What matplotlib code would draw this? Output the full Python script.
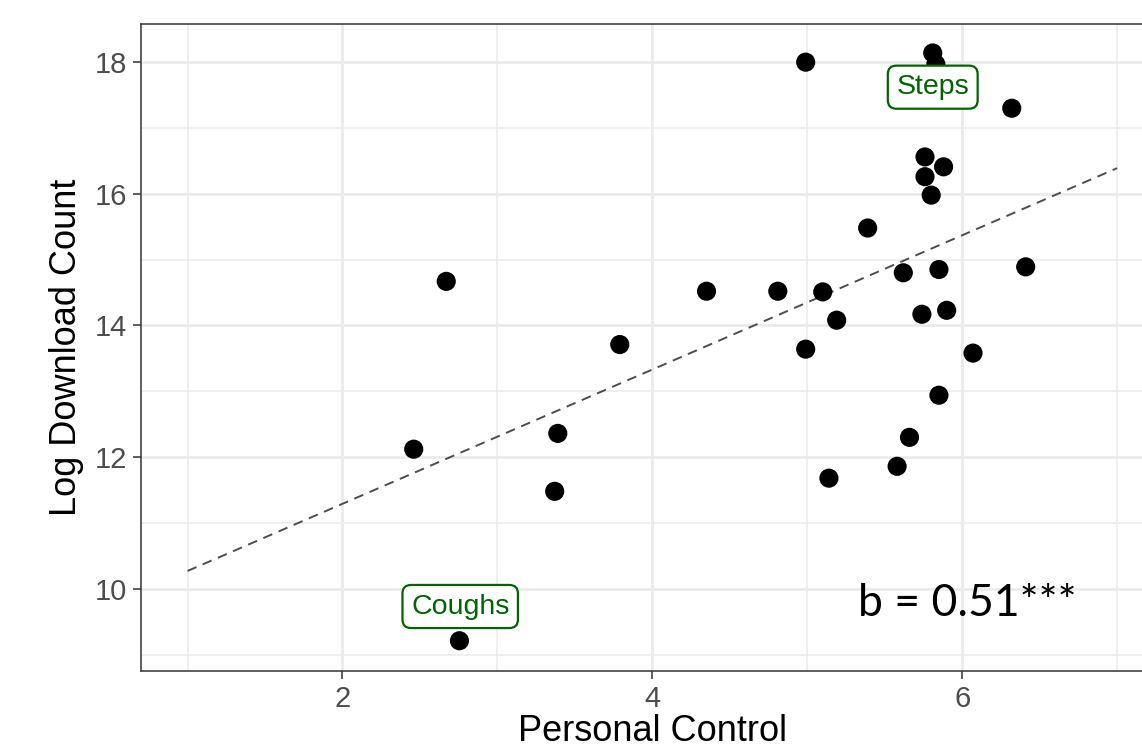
import matplotlib
matplotlib.use("Agg")
import matplotlib.pyplot as plt
import numpy as np

# personal control vs log download count, one dot per app
control = [4.99, 5.81, 5.83, 6.32, 5.76, 5.88, 5.76, 5.80, 5.39, 2.67,
           5.62, 5.85, 6.41, 4.35, 4.81, 5.10, 5.19, 3.79, 4.99, 5.74,
           5.90, 6.07, 5.85, 5.66, 5.58, 3.39, 2.46, 5.14, 3.37, 2.755]
downloads = [18.00, 18.14, 17.97, 17.30, 16.56, 16.41, 16.26, 15.98, 15.48, 14.67,
             14.80, 14.85, 14.89, 14.52, 14.52, 14.51, 14.08, 13.71, 13.64, 14.17,
             14.23, 13.58, 12.94, 12.30, 11.86, 12.36, 12.12, 11.68, 11.48, 9.21]

fit_intercept = 9.25
fit_slope = 1.02
fit_range = [1, 7]

labels = ["Steps", "Coughs"]
label_x = [5.81, 2.76]
label_y = [17.62, 9.73]

coef_text = "b = 0.51***"

fig = plt.figure(figsize=(11.42, 7.52), dpi=100)
ax = fig.add_axes([0.1235, 0.1077, 0.8954, 0.8604])

ax.set_xlim(0.7, 7.3)
ax.set_ylim(8.75, 18.58)

ax.set_xticks([2, 4, 6])
ax.set_xticks([1, 3, 5, 7], minor=True)
ax.set_yticks([10, 12, 14, 16, 18])
ax.set_yticks([9, 11, 13, 15, 17], minor=True)

ax.grid(which="major", color="#EBEBEB", linewidth=2.0, zorder=0)
ax.grid(which="minor", color="#EBEBEB", linewidth=1.1, zorder=0)
ax.set_axisbelow(True)

for s in ax.spines.values():
    s.set_color("#333333")
    s.set_linewidth(1.1)

ax.tick_params(which="major", length=6, width=1.1, color="#333333",
               labelsize=21, labelcolor="#4D4D4D", pad=4)
ax.tick_params(which="minor", length=0)
for t in ax.get_xticklabels() + ax.get_yticklabels():
    t.set_fontfamily("Liberation Sans")

xs = np.array(fit_range, dtype=float)
ax.plot(xs, fit_intercept + fit_slope * xs, linestyle=(0, (5, 3.5)),
        color="#4D4D4D", linewidth=1.4, zorder=2)

ax.scatter(control, downloads, s=190, color="black", edgecolors="none", zorder=3)

for name, lx, ly in zip(labels, label_x, label_y):
    ax.text(lx, ly, name, ha="center", va="center", fontsize=20.5,
            family="Liberation Sans", color="#006400", zorder=4,
            bbox=dict(boxstyle="round,pad=0.3,rounding_size=0.3",
                      facecolor="white", edgecolor="#006400", linewidth=1.6))

ax.text(6.03, 9.77, coef_text, ha="center", va="center", fontsize=32,
        family="Lato", color="black", zorder=4)

ax.set_xlabel("Personal Control", fontsize=26, family="Liberation Sans",
              color="black", labelpad=1)
ax.set_ylabel("Log Download Count", fontsize=26, family="Liberation Sans",
              color="black", labelpad=8)

fig.savefig("out.png", dpi=100)
